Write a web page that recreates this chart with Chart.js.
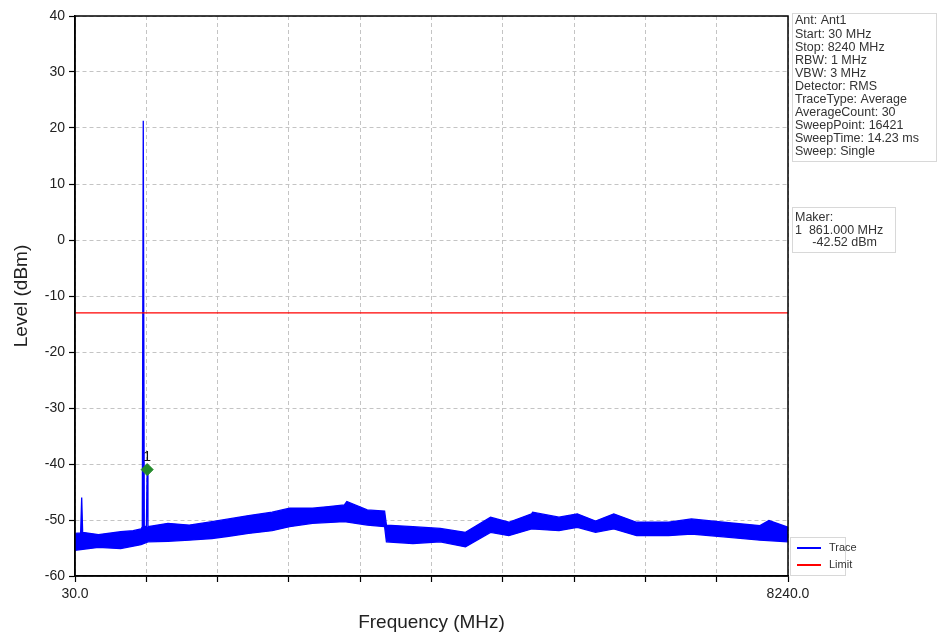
<!DOCTYPE html>
<html>
<head>
<meta charset="utf-8">
<script src="https://cdn.jsdelivr.net/npm/chart.js@4.4.1/dist/chart.umd.min.js"></script>
<style>
  html, body { margin: 0; padding: 0; background: #fff; }
  #wrap { width: 937px; height: 637px; position: relative; }
</style>
</head>
<body>
<div id="wrap"><canvas id="spec"></canvas></div>
<script>
// frequency axis (MHz) and tick positions
const xTicks = [30, 851, 1672, 2493, 3314, 4135, 4956, 5777, 6598, 7419, 8240];

// upper edge of the noise band, with the spikes (MHz, dBm)
const traceFreq = [30, 95, 107, 118, 300, 556, 700, 790, 805, 816, 828, 840, 852, 861, 870, 1100, 1345, 1607, 1800, 2028, 2300, 2501, 2764, 2950, 3132, 3160, 3395, 3595, 3616, 3921, 4236, 4526, 4815, 5025, 5288, 5300, 5603, 5814, 6024, 6234, 6497, 6865, 7128, 7496, 7917, 8020, 8240];
const traceTop  = [-52.4, -52.3, -46.0, -52.2, -52.6, -52.1, -51.9, -51.6, -51.2, 21.3, -51.2, -51.2, -51.0, -41.0, -51.2, -50.6, -50.9, -50.3, -49.8, -49.2, -48.6, -47.9, -47.9, -47.6, -47.3, -46.7, -48.2, -48.4, -50.9, -51.2, -51.5, -52.2, -49.5, -50.4, -48.9, -48.6, -49.5, -48.9, -50.2, -48.9, -50.4, -50.4, -49.8, -50.4, -51.0, -50.1, -51.3];

// lower edge of the noise band
const bandFreq = [30, 300, 556, 790, 871, 1100, 1345, 1607, 1800, 2028, 2300, 2501, 2764, 3132, 3395, 3595, 3616, 3921, 4236, 4526, 4815, 5025, 5288, 5603, 5814, 6024, 6234, 6497, 6865, 7128, 7496, 7917, 8240];
const bandLow  = [-55.4, -54.9, -55.1, -54.4, -53.9, -53.8, -53.6, -53.3, -52.9, -52.4, -51.9, -51.2, -50.6, -50.3, -50.9, -51.2, -53.9, -54.2, -53.9, -54.8, -52.2, -52.8, -51.6, -51.9, -51.3, -52.2, -51.6, -52.8, -52.8, -52.5, -53.0, -53.6, -53.9];

const limitLevel = -13;
const markerFreq = 861;
const markerLevel = -41.0;

const infoLines = ["Ant: Ant1", "Start: 30 MHz", "Stop: 8240 MHz", "RBW: 1 MHz", "VBW: 3 MHz",
  "Detector: RMS", "TraceType: Average", "AverageCount: 30", "SweepPoint: 16421",
  "SweepTime: 14.23 ms", "Sweep: Single"];
const makerLines = ["Maker:", "1  861.000 MHz", "     -42.52 dBm"];

const FONT = "'Liberation Sans', Arial, sans-serif";

const pts = (xs, ys) => xs.map((x, i) => ({x: x, y: ys[i]}));

const decor = {
  id: "decor",
  afterDraw(chart){
    const c = chart.ctx, a = chart.chartArea;
    c.save();
    // plot frame
    c.strokeStyle = "#000"; c.lineWidth = 1.5;
    c.strokeRect(a.left, a.top, a.right - a.left, a.bottom - a.top);

    // marker label
    const mk = chart.getDatasetMeta(3).data[0];
    c.fillStyle = "#111"; c.font = "14px " + FONT;
    c.textAlign = "center"; c.textBaseline = "alphabetic";
    c.fillText("1", mk.x, mk.y - 9);

    // axis titles
    c.fillStyle = "#222"; c.font = "19px " + FONT;
    c.textAlign = "center"; c.textBaseline = "middle";
    c.fillText("Frequency (MHz)", (a.left + a.right) / 2, 623);
    c.save();
    c.translate(22, (a.top + a.bottom) / 2);
    c.rotate(-Math.PI / 2);
    c.fillText("Level (dBm)", 0, 0);
    c.restore();

    // info boxes
    c.font = "12.5px " + FONT; c.textAlign = "left"; c.textBaseline = "middle";
    c.strokeStyle = "#d8d8d8"; c.lineWidth = 1;
    c.strokeRect(792.5, 13.5, 144, 148);
    c.fillStyle = "#333";
    infoLines.forEach((t, i) => c.fillText(t, 795, 21 + i * 13.1));
    c.strokeRect(792.5, 207.5, 103, 45);
    makerLines.forEach((t, i) => c.fillText(t, 795, 218 + i * 12.5));

    // legend
    c.strokeRect(790.5, 537.5, 55, 38);
    c.font = "11px " + FONT;
    const items = [chart.data.datasets[0], chart.data.datasets[2]];
    items.forEach((ds, i) => {
      const y = 548 + i * 17;
      c.strokeStyle = ds.borderColor; c.lineWidth = 2;
      c.beginPath(); c.moveTo(797, y); c.lineTo(821, y); c.stroke();
      c.fillStyle = "#333";
      c.fillText(ds.label, 829, y);
    });
    c.restore();
  }
};

const gridOpts = {color: "#c4c4c4", lineWidth: 1, tickColor: "#000", tickLength: 6, tickBorderDash: [], tickWidth: 1.2};

new Chart(document.getElementById("spec"), {
  type: "scatter",
  data: {
    datasets: [
      {label: "Trace", data: pts(traceFreq, traceTop), showLine: true, borderColor: "#0000ff",
       borderWidth: 1.3, pointRadius: 0, tension: 0, order: 2},
      {label: "band", data: pts(bandFreq, bandLow), showLine: true, borderColor: "#0000ff",
       backgroundColor: "#0000ff", borderWidth: 1.3, pointRadius: 0, fill: "-1", order: 3},
      {label: "Limit", data: [{x: 30, y: limitLevel}, {x: 8240, y: limitLevel}], showLine: true,
       borderColor: "#ff0000", borderWidth: 1.2, pointRadius: 0, order: 1},
      {label: "Marker", data: [{x: markerFreq, y: markerLevel}], pointStyle: "rectRot", pointRadius: 6,
       backgroundColor: "#238a2a", borderColor: "#238a2a", order: 0}
    ]
  },
  options: {
    responsive: true, maintainAspectRatio: false, animation: false,
    layout: {padding: {left: 0, top: 16, right: 149, bottom: 0}},
    plugins: {legend: {display: false}, tooltip: {enabled: false}},
    scales: {
      x: {
        type: "linear", min: 30, max: 8240,
        afterBuildTicks: s => { s.ticks = xTicks.map(v => ({value: v})); },
        afterFit: s => { s.height = 61; },
        ticks: {
          color: "#222", font: {family: FONT, size: 14}, padding: 4, maxRotation: 0, autoSkip: false,
          callback: (v, i) => (i === 0 || i === xTicks.length - 1) ? Number(v).toFixed(1) : ""
        },
        grid: gridOpts,
        border: {color: "#000", width: 1.5, dash: [4, 3]}
      },
      y: {
        min: -60, max: 40,
        afterFit: s => { s.width = 75; },
        ticks: {stepSize: 10, color: "#222", font: {family: FONT, size: 14}, padding: 4},
        grid: gridOpts,
        border: {color: "#000", width: 1.5, dash: [4, 3]}
      }
    }
  },
  plugins: [decor]
});
</script>
</body>
</html>
